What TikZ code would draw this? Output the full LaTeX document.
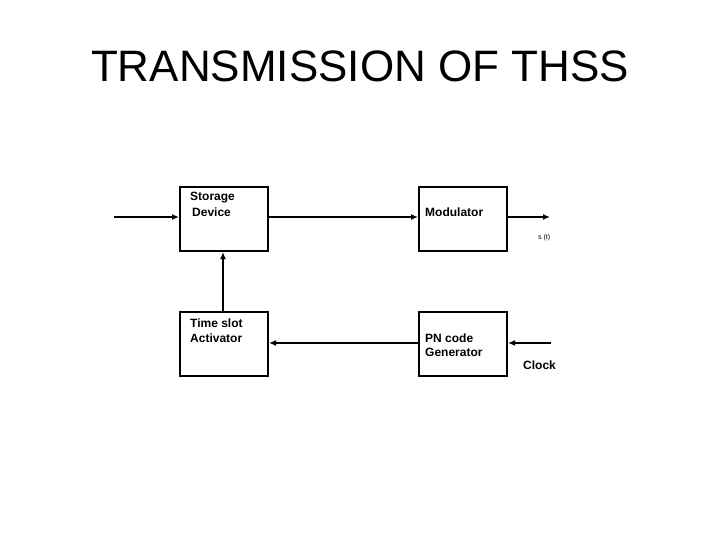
\documentclass[tikz,border=0pt]{standalone}
\usepackage{fontspec}
\setmainfont{Liberation Sans}
\begin{document}
\begin{tikzpicture}[x=1pt,y=-1pt,
  blk/.style={draw,line width=2pt,minimum width=88pt,minimum height=64pt,anchor=north west,fill=white},
  shad/.style={fill=black!25,minimum width=88pt,minimum height=64pt,anchor=north west,inner sep=0pt},
  lab/.style={anchor=base west,font=\fontsize{12}{14}\selectfont\bfseries,inner sep=0pt},
  arr/.style={line width=2pt,-{Latex[length=7pt,width=6pt]}}]
\usetikzlibrary{arrows.meta}
\useasboundingbox (0,0) rectangle (720,540);
\node[anchor=base,font=\fontsize{44}{50}\selectfont] (title) at (360,82) {TRANSMISSION OF THSS};
\foreach \n/\x/\y in {sd/179/186,mod/418/186,ts/179/311,pn/418/311}{
  \node[shad,minimum width=88pt,minimum height=64pt] at (\x+2,\y+2) {};
  \node[blk,inner sep=0pt] (\n) at (\x,\y) {};
}
\node[lab] (l1) at (190,201) {Storage};
\node[lab] (l2) at (192,216) {Device};
\node[lab] (l3) at (425,216) {Modulator};
\node[lab] (l4) at (190,327) {Time slot};
\node[lab] (l5) at (190,342) {Activator};
\node[lab] (l6) at (425,342) {PN code};
\node[lab] (l7) at (425,356) {Generator};
\node[lab] (l8) at (523,369) {Clock};
\node[anchor=base west,font=\fontsize{7}{8}\selectfont,inner sep=0pt] (st) at (538,240) {s (t)};
\coordinate (in) at (114,217);
\coordinate (out) at (550,217);
\coordinate (clk) at (551,343);
\draw[arr] (in) -- (in -| sd.west);
\draw[arr] (sd.east |- in) -- (mod.west |- in);
\draw[arr] (mod.east |- in) -- (out);
\draw[arr] (clk) -- (clk -| pn.east);
\draw[arr] (pn.west |- clk) -- (ts.east |- clk);
\draw[arr] (ts.north -| 223,0) -- (sd.south -| 223,0);
\end{tikzpicture}
\end{document}
